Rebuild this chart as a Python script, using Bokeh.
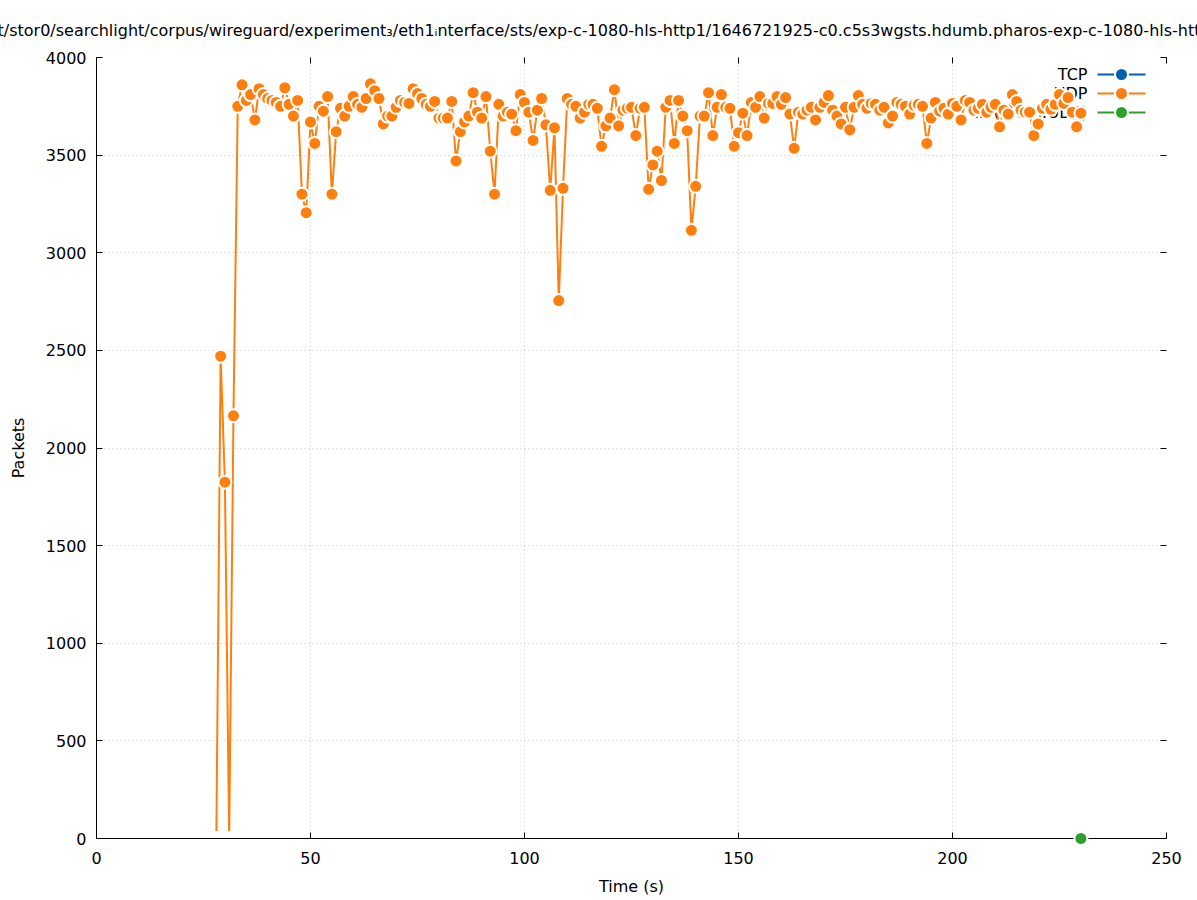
from bokeh.plotting import figure
from bokeh.models import LinearAxis, FixedTicker, Range1d, CustomJSTickFormatter
from bokeh.core.properties import value
from bokeh.embed import file_html
from bokeh.resources import INLINE

TITLE = ("t/stor0/searchlight/corpus/wireguard/experiment\u2083/eth1\u1d62nterface/sts/"
         "exp-c-1080-hls-http1/1646721925-c0.c5s3wgsts.hdumb.pharos-exp-c-1080-hls-http1")

x_ticks = [0, 50, 100, 150, 200, 250]
y_ticks = [0, 500, 1000, 1500, 2000, 2500, 3000, 3500, 4000]

series_names = ["TCP", "UDP", "IP (!TCP !UDP)"]
series_colors = ["#0060ad", "#ff7f0e", "#2ca02c"]

tcp_time = []
tcp_packets = []

udp_time = list(range(28, 231))
udp_packets = [
    0, 2470, 1825, 0, 2165, 3750, 3860, 3780, 3810, 3680,          # 28-37
    3840, 3810, 3790, 3780, 3770, 3750, 3845, 3760, 3700, 3780,    # 38-47
    3300, 3205, 3670, 3560, 3750, 3725, 3800, 3300, 3620, 3740,    # 48-57
    3700, 3750, 3800, 3760, 3745, 3790, 3865, 3830, 3790, 3660,    # 58-67
    3700, 3700, 3745, 3780, 3770, 3765, 3840, 3815, 3790, 3760,    # 68-77
    3750, 3775, 3690, 3690, 3690, 3775, 3470, 3620, 3670, 3700,    # 78-87
    3820, 3720, 3690, 3800, 3520, 3300, 3760, 3700, 3720, 3710,    # 88-97
    3625, 3810, 3770, 3720, 3575, 3730, 3790, 3655, 3320, 3640,    # 98-107
    2755, 3330, 3790, 3760, 3750, 3690, 3720, 3760, 3760, 3740,    # 108-117
    3545, 3650, 3690, 3835, 3650, 3730, 3740, 3745, 3600, 3740,    # 118-127
    3745, 3325, 3450, 3520, 3370, 3745, 3780, 3560, 3780, 3700,    # 128-137
    3625, 3115, 3340, 3700, 3700, 3820, 3600, 3745, 3810, 3745,    # 138-147
    3740, 3545, 3615, 3715, 3600, 3770, 3745, 3800, 3690, 3765,    # 148-157
    3765, 3800, 3760, 3795, 3710, 3535, 3720, 3710, 3730, 3745,    # 158-167
    3680, 3745, 3770, 3805, 3730, 3700, 3660, 3745, 3630, 3745,    # 168-177
    3805, 3760, 3740, 3765, 3760, 3730, 3745, 3665, 3700, 3770,    # 178-187
    3760, 3750, 3710, 3755, 3760, 3750, 3560, 3690, 3770, 3725,    # 188-197
    3740, 3710, 3765, 3750, 3680, 3780, 3770, 3730, 3740, 3760,    # 198-207
    3720, 3745, 3760, 3645, 3730, 3710, 3810, 3775, 3730, 3720,    # 208-217
    3720, 3600, 3660, 3740, 3760, 3735, 3760, 3810, 3765, 3795,    # 218-227
    3720, 3645, 3715,                                              # 228-230
]

ip_time = list(range(0, 231))
ip_packets = [0] * len(ip_time)

FONT = "DejaVu Sans"
FW, FH = 1070, 781
X0, X1, Y0, Y1 = 0, 250, 0, 4000

p = figure(frame_width=FW, frame_height=FH,
           x_range=Range1d(X0, X1), y_range=Range1d(Y0, Y1),
           output_backend="svg", toolbar_location=None,
           min_border_left=96, min_border_right=31,
           min_border_top=57, min_border_bottom=60,
           background_fill_color="white", border_fill_color="white",
           outline_line_color=None)

p.title.text = TITLE
p.title.align = "left"
p.title.offset = -99
p.title.standoff = 35
p.title.text_font = FONT
p.title.text_font_size = "16px"
p.title.text_font_style = "normal"
p.title.text_color = "black"

def style_axis(ax, ticks, show_labels=True, show_line=True):
    ax.ticker = FixedTicker(ticks=ticks)
    ax.major_tick_in = 6
    ax.major_tick_out = 0
    ax.minor_tick_line_color = None
    ax.major_tick_line_color = "black"
    ax.axis_line_color = "black" if show_line else None
    ax.major_label_text_font = FONT
    ax.major_label_text_font_size = "16px"
    ax.major_label_text_color = "black"
    ax.major_label_standoff = 10 if show_labels else 0
    if not show_labels:
        ax.formatter = CustomJSTickFormatter(code="return ''")
    ax.axis_label_text_font = FONT
    ax.axis_label_text_font_size = "16px"
    ax.axis_label_text_font_style = "normal"
    ax.axis_label_text_color = "black"

style_axis(p.xaxis[0], x_ticks)
style_axis(p.yaxis[0], y_ticks)
p.xaxis[0].axis_label = "Time (s)"
p.yaxis[0].axis_label = "Packets"
p.xaxis[0].major_label_standoff = 13
p.xaxis[0].axis_label_standoff = 10
p.yaxis[0].axis_label_standoff = 15

top_ax = LinearAxis()
style_axis(top_ax, x_ticks, show_labels=False, show_line=False)
p.add_layout(top_ax, "above")
right_ax = LinearAxis()
style_axis(right_ax, y_ticks, show_labels=False, show_line=False)
p.add_layout(right_ax, "right")

for g, ticks in ((p.xgrid[0], x_ticks), (p.ygrid[0], y_ticks)):
    g.ticker = FixedTicker(ticks=ticks)
    g.grid_line_color = "#c4c4c4"
    g.grid_line_dash = "1 3"
    g.grid_line_width = 1

# ---- key (drawn first so that the data overlaps it, as in the original) ----
def fx(px):  # frame pixel from left -> data x
    return X0 + (X1 - X0) * px / FW

def fy(py):  # frame pixel from top -> data y
    return Y1 - (Y1 - Y0) * py / FH

rows = [fy(17 + 19 * i) for i in range(len(series_names))]
p.text(x=[fx(991)] * len(rows), y=rows, text=series_names,
       text_align="right", text_baseline="middle",
       text_font=value(FONT), text_font_size="16px", text_color="black")
p.segment(x0=[fx(1001)] * len(rows), y0=rows, x1=[fx(1049)] * len(rows), y1=rows,
          line_color=series_colors, line_width=2)
p.scatter(x=[fx(1025)] * len(rows), y=rows, size=13, fill_color=series_colors,
          line_color="white", line_width=2)

# ---- data ----
p.line(tcp_time, tcp_packets, line_color=series_colors[0], line_width=2)
p.scatter(tcp_time, tcp_packets, size=13, fill_color=series_colors[0],
          line_color="white", line_width=2)

p.line(udp_time, udp_packets, line_color=series_colors[1], line_width=2)
p.scatter(udp_time, udp_packets, size=13, fill_color=series_colors[1],
          line_color="white", line_width=2)

p.line(ip_time, ip_packets, line_color=series_colors[2], line_width=2)
p.scatter(ip_time[:-1], ip_packets[:-1], size=15, fill_color="white", line_color=None)
p.scatter(ip_time[-1:], ip_packets[-1:], size=13, fill_color=series_colors[2],
          line_color="white", line_width=2, level="overlay")

open("out.html", "w").write(file_html(p, INLINE))
